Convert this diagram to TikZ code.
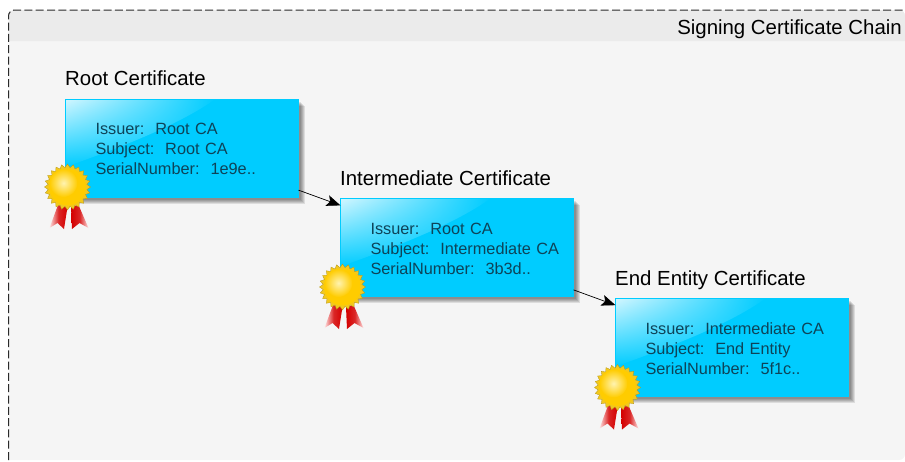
\documentclass[tikz,border=0pt]{standalone}
\usepackage{fontspec}
\setmainfont{Liberation Sans}
\usetikzlibrary{arrows.meta,shadows,shadings}
\definecolor{certblue}{HTML}{00CCFF}
\definecolor{certgloss}{HTML}{D2F6FF}
\definecolor{certtext}{HTML}{0E4358}
\definecolor{panelbody}{HTML}{F5F5F5}
\definecolor{panelhead}{HTML}{EBEBEB}
\definecolor{framegray}{HTML}{2A2A2A}
\definecolor{goldrim}{HTML}{F2C81E}
\definecolor{goldlight}{HTML}{FFF3B0}
\definecolor{goldmain}{HTML}{FFCC00}
\definecolor{ribred}{HTML}{D40000}
\definecolor{ribpale}{HTML}{FFE4E4}
\newcommand{\certlines}[3]{\rule{0pt}{13.8pt}\mbox{#1}\\\mbox{#2}\\\mbox{#3}}
\tikzset{
  x=1pt,y=-1pt,
  softshade/.style={general shadow={fill=black,opacity=.10,shadow xshift=#1,shadow yshift=-#1}},
  certbox/.style={
    rectangle,draw=certblue,line width=.8pt,fill=certblue,
    minimum width=233pt,minimum height=98pt,inner sep=0pt,outer sep=0pt,
    text width=173pt,align=left,text=certtext,
    font=\fontsize{16.3}{20}\selectfont,
    softshade=2.5pt,softshade=3.5pt,softshade=4.5pt,softshade=5.5pt,softshade=6.5pt,
    path picture={
      \begin{scope}
        \clip ([shift={(0pt,0pt)}]path picture bounding box.north west)
          -- ([shift={(150pt,0pt)}]path picture bounding box.north west)
          .. controls ([shift={(110pt,-28pt)}]path picture bounding box.north west)
          and ([shift={(50pt,-50pt)}]path picture bounding box.north west)
          .. ([shift={(0pt,-68pt)}]path picture bounding box.north west) -- cycle;
        \shade[upper left=certgloss,upper right=certblue,lower left=certblue,lower right=certblue]
          (path picture bounding box.north west) rectangle
          ([shift={(150pt,-68pt)}]path picture bounding box.north west);
      \end{scope}
    }},
  certtitle/.style={anchor=base west,inner sep=0pt,text=black,font=\fontsize{20.4}{22}\selectfont},
  chainarrow/.style={draw=black,line width=.7pt,-{Stealth[length=14pt,width=11pt,inset=3pt]}},
  medal/.pic={
    \path[left color=ribpale,right color=ribred,middle color=ribred!85!white]
      (-9.5,18) -- (-18,41) -- (-10,36) -- (-3.5,42) -- (0,20) -- cycle;
    \path[left color=ribred,right color=ribpale,middle color=ribred!85!white]
      (3.5,20) -- (4.5,42) -- (12,36) -- (21,41) -- (11,18) -- cycle;
    \fill[goldrim,draw=goldrim!75!black,line width=.3pt]
      (0:23) \foreach \a in {0,15,...,345} {-- (\a+7.5:19.5) -- (\a+15:23)} -- cycle;
    \fill[goldmain] (0,0) circle (18.5);
    \shade[inner color=goldlight,outer color=goldmain] (-4,-4) circle (14);
  }
}
\begin{document}
\begin{tikzpicture}
\useasboundingbox (0,0) rectangle (905,461);
% panel
\fill[panelbody,rounded corners=6pt] (8.5,460) -- (8.5,10) -- (905,10) -- (905,460) [sharp corners] -- cycle;
\fill[panelhead,rounded corners=6pt] (8.5,41) -- (8.5,10) -- (905,10) [sharp corners] -- (905,41) -- cycle;
\draw[framegray,line width=1pt,dash pattern=on 8pt off 3.3pt,rounded corners=6pt] (8.5,460) -- (8.5,10) -- (905,10);
\node[anchor=base east,inner sep=0pt,font=\fontsize{20.4}{22}\selectfont] (chain) at (902,34) {Signing Certificate Chain};
% certificates
\node[certbox] (root) at (182,148) {\certlines{Issuer:\ \ Root CA}{Subject:\ \ Root CA}{SerialNumber:\ \ 1e9e..}};
\node[certbox] (inter) at (457,247.5) {\certlines{Issuer:\ \ Root CA}{Subject:\ \ Intermediate CA}{SerialNumber:\ \ 3b3d..}};
\node[certbox] (leaf) at (732,347.5) {\certlines{Issuer:\ \ Intermediate CA}{Subject:\ \ End Entity}{SerialNumber:\ \ 5f1c..}};
\node[certtitle] (roott) at (65,85) {Root Certificate};
\node[certtitle] (intert) at (340,185) {Intermediate Certificate};
\node[certtitle] (leaft) at (615,285) {End Entity Certificate};
\draw[chainarrow] (root) -- (inter);
\draw[chainarrow] (inter) -- (leaf);
\pic at (67.5,187) {medal};
\pic at (342.5,287) {medal};
\pic at (617.5,387.5) {medal};
\end{tikzpicture}
\end{document}
